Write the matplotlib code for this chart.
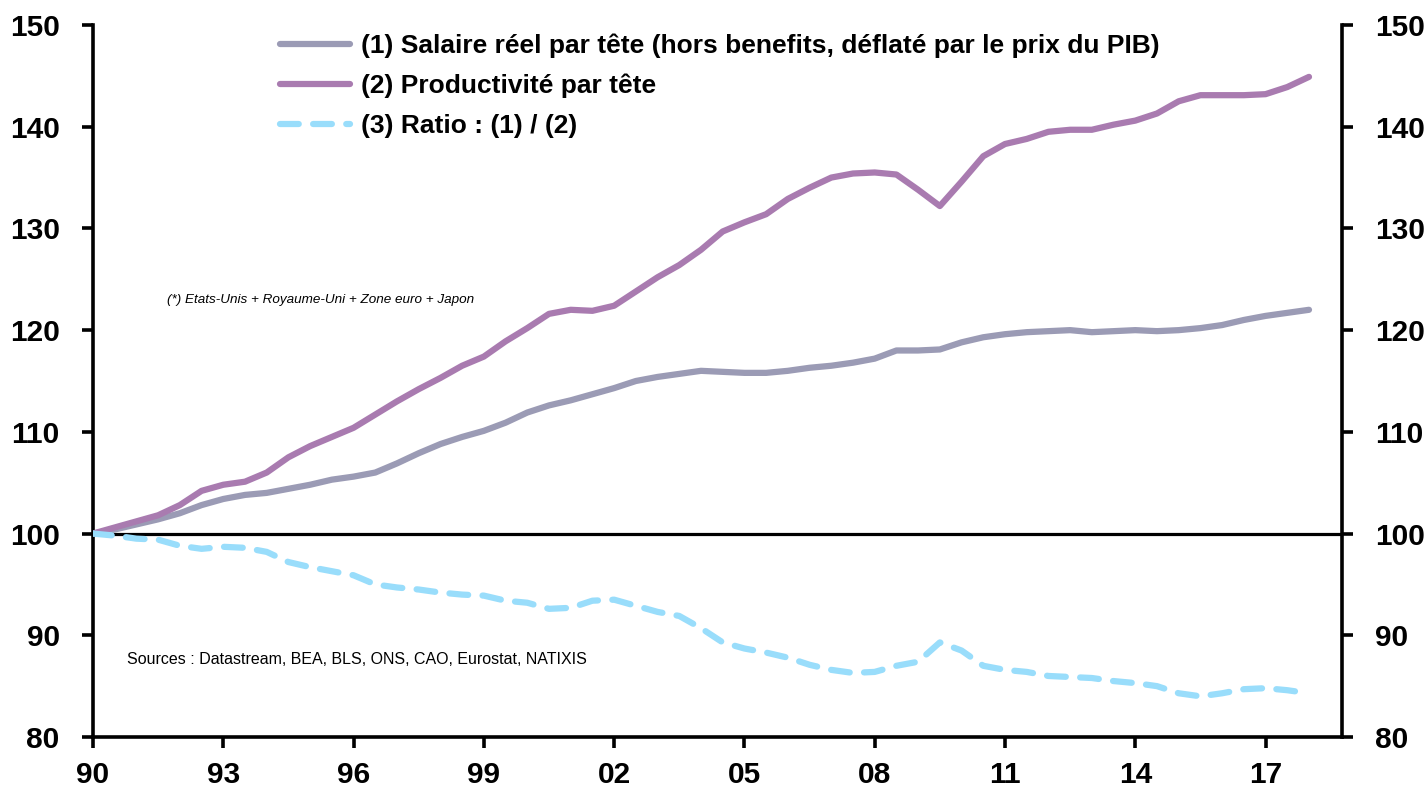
import matplotlib
matplotlib.use("Agg")
import matplotlib.pyplot as plt

plt.rcParams['font.family'] = ['Liberation Sans', 'DejaVu Sans']

# half-yearly points, 1990 = 100
years = [1990.0, 1990.5, 1991.0, 1991.5, 1992.0, 1992.5, 1993.0, 1993.5, 1994.0, 1994.5,
         1995.0, 1995.5, 1996.0, 1996.5, 1997.0, 1997.5, 1998.0, 1998.5, 1999.0, 1999.5,
         2000.0, 2000.5, 2001.0, 2001.5, 2002.0, 2002.5, 2003.0, 2003.5, 2004.0, 2004.5,
         2005.0, 2005.5, 2006.0, 2006.5, 2007.0, 2007.5, 2008.0, 2008.5, 2009.0, 2009.5,
         2010.0, 2010.5, 2011.0, 2011.5, 2012.0, 2012.5, 2013.0, 2013.5, 2014.0, 2014.5,
         2015.0, 2015.5, 2016.0, 2016.5, 2017.0, 2017.5, 2018.0]

salaire = [100.0, 100.4, 100.9, 101.4, 102.0, 102.8, 103.4, 103.8, 104.0, 104.4,
           104.8, 105.3, 105.6, 106.0, 106.9, 107.9, 108.8, 109.5, 110.1, 110.9,
           111.9, 112.6, 113.1, 113.7, 114.3, 115.0, 115.4, 115.7, 116.0, 115.9,
           115.8, 115.8, 116.0, 116.3, 116.5, 116.8, 117.2, 118.0, 118.0, 118.1,
           118.8, 119.3, 119.6, 119.8, 119.9, 120.0, 119.8, 119.9, 120.0, 119.9,
           120.0, 120.2, 120.5, 121.0, 121.4, 121.7, 122.0]

productivite = [100.0, 100.6, 101.2, 101.8, 102.8, 104.2, 104.8, 105.1, 106.0, 107.5,
                108.6, 109.5, 110.4, 111.7, 113.0, 114.2, 115.3, 116.5, 117.4, 118.9,
                120.2, 121.6, 122.0, 121.9, 122.4, 123.8, 125.2, 126.4, 127.9, 129.7,
                130.6, 131.4, 132.9, 134.0, 135.0, 135.4, 135.5, 135.3, 133.8, 132.2,
                134.6, 137.1, 138.3, 138.8, 139.5, 139.7, 139.7, 140.2, 140.6, 141.3,
                142.5, 143.1, 143.1, 143.1, 143.2, 143.9, 144.9]

ratio = [100.0, 99.8, 99.5, 99.4, 98.8, 98.5, 98.7, 98.6, 98.2, 97.2,
         96.7, 96.3, 95.9, 95.0, 94.7, 94.5, 94.2, 94.0, 93.9, 93.4,
         93.2, 92.6, 92.7, 93.4, 93.5, 92.9, 92.3, 91.9, 90.7, 89.3,
         88.7, 88.3, 87.8, 87.1, 86.6, 86.3, 86.4, 87.0, 87.4, 89.3,
         88.5, 87.0, 86.6, 86.4, 86.0, 85.9, 85.8, 85.5, 85.3, 85.0,
         84.3, 84.0, 84.3, 84.7, 84.8, 84.6, 84.3]

xtick_pos = [1990, 1993, 1996, 1999, 2002, 2005, 2008, 2011, 2014, 2017]
xtick_lab = ['90', '93', '96', '99', '02', '05', '08', '11', '14', '17']
yticks = [80, 90, 100, 110, 120, 130, 140, 150]

fig = plt.figure(figsize=(14.28, 7.89), dpi=100)
ax = fig.add_axes([93/1428, 1 - 737/789, (1342 - 93)/1428, (737 - 25)/789])

ax.axhline(100, color='black', lw=2.3, zorder=1)

ax.plot(years, salaire, color='#9b9bb5', lw=4.5, solid_capstyle='round',
        label='(1) Salaire réel par tête (hors benefits, déflaté par le prix du PIB)', zorder=3)
ax.plot(years, productivite, color='#a97bb0', lw=4.5, solid_capstyle='round',
        label='(2) Productivité par tête', zorder=3)
ax.plot(years, ratio, color='#99ddfb', lw=4.5, dashes=(3.0, 2.3), dash_capstyle='round',
        label='(3) Ratio : (1) / (2)', zorder=3)

ax.set_xlim(1990, 2018.76)
ax.set_ylim(80, 150)
ax.set_xticks(xtick_pos)
ax.set_xticklabels(xtick_lab)
ax.set_yticks(yticks)

ax.spines['top'].set_visible(False)
for s in ['left', 'right', 'bottom']:
    ax.spines[s].set_linewidth(2.6)

ax.tick_params(axis='y', direction='out', length=8, width=2.6, left=True, right=True,
               labelleft=True, labelright=True, pad=16, labelsize=21.5)
ax.tick_params(axis='x', direction='out', length=8, width=2.6, pad=9, labelsize=21.5)
for lab in ax.get_xticklabels() + ax.get_yticklabels():
    lab.set_fontweight('bold')
for t in ax.yaxis.get_major_ticks():
    t.label2.set_fontweight('bold')

leg = ax.legend(loc='upper left', bbox_to_anchor=(0.1497, 0.988), frameon=False,
                prop={'weight': 'bold', 'size': 19}, handlelength=2.65, handletextpad=0.42,
                labelspacing=0.6, borderpad=0, borderaxespad=0)

# notes placed in pixels from the top-left corner
ax.text(167, 789 - 300, '(*) Etats-Unis + Royaume-Uni + Zone euro + Japon', transform=None,
        fontsize=9.7, style='italic', va='center', ha='left')
ax.text(127, 789 - 660, 'Sources : Datastream, BEA, BLS, ONS, CAO, Eurostat, NATIXIS',
        transform=None, fontsize=11.5, va='center', ha='left')

fig.savefig('out.png', dpi=100)
